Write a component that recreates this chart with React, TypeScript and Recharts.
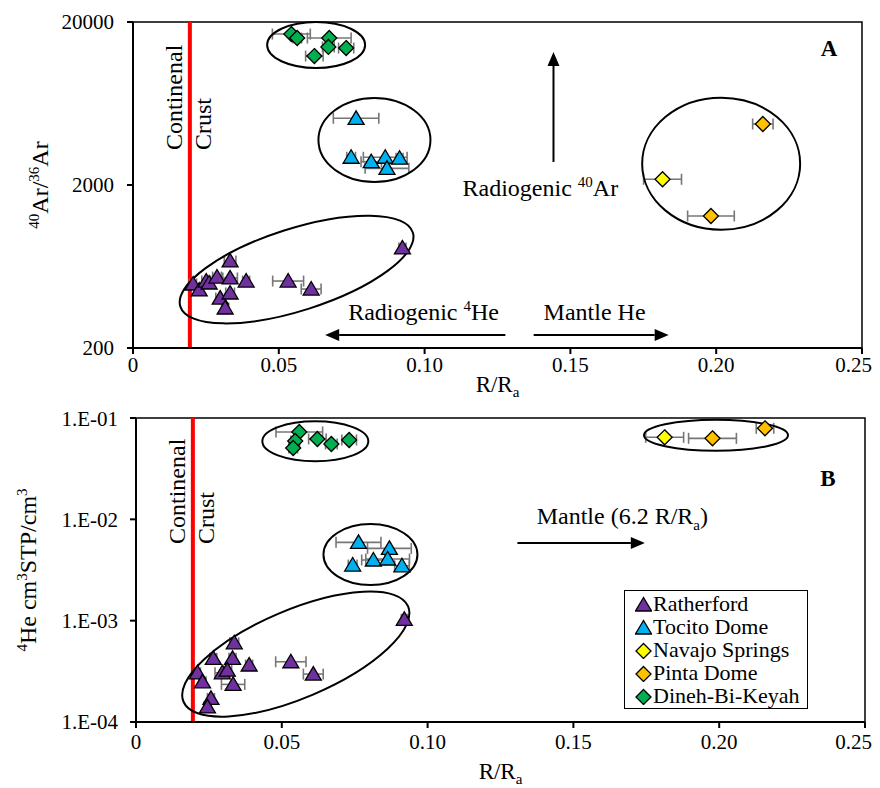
import React from 'react';
import {
  ScatterChart,
  Scatter,
  XAxis,
  YAxis,
  ErrorBar,
  ReferenceLine,
  ReferenceDot,
  ReferenceArea,
  Legend,
} from 'recharts';

const FONT = '"Liberation Serif", "Times New Roman", serif';

// [R/Ra, value, R/Ra error]
type Pt = [number, number, number];

const ratherfordAr: Pt[] = [
  [0.0206, 494, 0.0012],
  [0.0227, 454, 0.0012],
  [0.0251, 515, 0.0015],
  [0.0261, 501, 0.0012],
  [0.0288, 545, 0.0015],
  [0.0299, 405, 0.0015],
  [0.0316, 352, 0.0012],
  [0.0333, 684, 0.002],
  [0.0333, 538, 0.0025],
  [0.0333, 435, 0.0015],
  [0.0388, 515, 0.0012],
  [0.0532, 515, 0.0053],
  [0.0611, 460, 0.0034],
  [0.0924, 822, 0.0012],
];
const tocitoAr: Pt[] = [
  [0.0765, 5130, 0.0078],
  [0.0748, 2960, 0.0015],
  [0.0817, 2780, 0.0035],
  [0.0865, 2960, 0.0075],
  [0.0914, 2920, 0.0012],
  [0.0871, 2530, 0.0075],
];
const navajoAr: Pt[] = [[0.1816, 2168, 0.0065]];
const pintaAr: Pt[] = [
  [0.216, 4735, 0.0035],
  [0.1982, 1291, 0.008],
];
const dinehAr: Pt[] = [
  [0.0543, 16870, 0.0065],
  [0.0563, 15950, 0.0015],
  [0.0673, 15950, 0.0075],
  [0.067, 14060, 0.002],
  [0.0731, 13840, 0.0026],
  [0.0622, 12360, 0.003],
];

const ratherfordHe: Pt[] = [
  [0.092, 1.03e-3, 0.001],
  [0.0337, 6.05e-4, 0.0015],
  [0.0265, 4.25e-4, 0.0012],
  [0.0331, 4.25e-4, 0.0012],
  [0.0388, 3.65e-4, 0.0012],
  [0.0211, 3.06e-4, 0.001],
  [0.0296, 3.06e-4, 0.0025],
  [0.0313, 3.25e-4, 0.0015],
  [0.0228, 2.49e-4, 0.0012],
  [0.0333, 2.35e-4, 0.004],
  [0.0257, 1.71e-4, 0.0012],
  [0.0245, 1.41e-4, 0.0012],
  [0.0531, 3.93e-4, 0.0052],
  [0.0608, 2.97e-4, 0.0034],
];
const tocitoHe: Pt[] = [
  [0.0763, 5.93e-3, 0.0077],
  [0.0869, 5.17e-3, 0.0075],
  [0.0743, 3.54e-3, 0.0015],
  [0.0814, 3.97e-3, 0.004],
  [0.0863, 4.06e-3, 0.0075],
  [0.0912, 3.48e-3, 0.0025],
];
const navajoHe: Pt[] = [[0.1813, 0.0645, 0.0065]];
const pintaHe: Pt[] = [
  [0.1977, 0.063, 0.0082],
  [0.2157, 0.0791, 0.003],
];
const dinehHe: Pt[] = [
  [0.056, 0.0728, 0.008],
  [0.0546, 0.0593, 0.0015],
  [0.0539, 0.0506, 0.0015],
  [0.0622, 0.0621, 0.003],
  [0.067, 0.0554, 0.002],
  [0.0731, 0.0607, 0.0025],
];

const xTicks = [0, 0.05, 0.1, 0.15, 0.2, 0.25];
const arTicks = [200, 2000, 20000];
const heTicks = [1e-4, 1e-3, 1e-2, 1e-1];

const seriesNames = ['Ratherford', 'Tocito Dome', 'Navajo Springs', 'Pinta Dome', 'Dineh-Bi-Keyah'];
const seriesColors = ['#7030A0', '#00B0F0', '#FFFF00', '#FFC000', '#00B050'];
const seriesShapes = ['triangle', 'triangle', 'diamond', 'diamond', 'diamond'];
const arSets = [ratherfordAr, tocitoAr, navajoAr, pintaAr, dinehAr];
const heSets = [ratherfordHe, tocitoHe, navajoHe, pintaHe, dinehHe];

// cluster outlines: [R/Ra, value, rx px, ry px, rotation deg]
const ellipsesA = [
  [0.0628, 14450, 49, 23, 0],
  [0.0828, 3776, 56, 42, 0],
  [0.2017, 2702, 79, 66, 0],
  [0.0561, 606, 122, 41, -17.7],
];
const ellipsesB = [
  [0.0615, 0.0589, 53, 20, 0],
  [0.1989, 0.0675, 72, 15.5, 0],
  [0.0804, 0.00449, 47, 30.5, 0],
  [0.0548, 4.68e-4, 122, 44, -23],
];

const toRows = (pts: Pt[]) => pts.map(([r, v, e]) => ({ r, v, e }));

const Marker = ({ cx, cy, fill, kind }: any) => {
  if (kind === 'triangle') {
    return (
      <polygon
        points={`${cx},${cy - 7.5} ${cx - 8},${cy + 6} ${cx + 8},${cy + 6}`}
        fill={fill}
        stroke="#000"
        strokeWidth={1.3}
      />
    );
  }
  return (
    <polygon
      points={`${cx},${cy - 7.5} ${cx + 7.5},${cy} ${cx},${cy + 7.5} ${cx - 7.5},${cy}`}
      fill={fill}
      stroke="#000"
      strokeWidth={1.3}
    />
  );
};

const ellipseShape = (rx: number, ry: number, rot: number) => (p: any) => (
  <ellipse
    cx={p.cx}
    cy={p.cy}
    rx={rx}
    ry={ry}
    transform={`rotate(${rot} ${p.cx} ${p.cy})`}
    fill="none"
    stroke="#000"
    strokeWidth={2}
  />
);

const textShape = (content: React.ReactNode, anchor = 'start', size = 24, bold = false) => (p: any) => (
  <text
    x={p.cx}
    y={p.cy}
    textAnchor={anchor}
    fontFamily={FONT}
    fontSize={size}
    fontWeight={bold ? 'bold' : 'normal'}
    fill="#000"
  >
    {content}
  </text>
);

const Arrow = (p: any) => {
  const { x1, y1, x2, y2 } = p;
  const ang = Math.atan2(y2 - y1, x2 - x1);
  const L = 14;
  const W = 6;
  const bx = x2 - L * Math.cos(ang);
  const by = y2 - L * Math.sin(ang);
  const px = -Math.sin(ang) * W;
  const py = Math.cos(ang) * W;
  return (
    <g>
      <line x1={x1} y1={y1} x2={bx} y2={by} stroke="#000" strokeWidth={2} />
      <polygon points={`${x2},${y2} ${bx + px},${by + py} ${bx - px},${by - py}`} fill="#000" />
    </g>
  );
};

const CrustLabel = ({ viewBox, start }: any) => {
  const x = viewBox.x;
  const by = viewBox.y + start;
  return (
    <g fontFamily={FONT} fontSize={24} fill="#000">
      <text x={x - 8} y={by} transform={`rotate(-90 ${x - 8} ${by})`}>
        Continenal
      </text>
      <text x={x + 21} y={by} transform={`rotate(-90 ${x + 21} ${by})`}>
        Crust
      </text>
    </g>
  );
};

const RLabel = ({ viewBox, dy }: any) => {
  const cx = viewBox.x + viewBox.width / 2;
  const y = viewBox.y + dy;
  return (
    <text x={cx} y={y} textAnchor="middle" fontFamily={FONT} fontSize={23} fill="#000">
      R/R
      <tspan fontSize={15} dy={5}>
        a
      </tspan>
    </text>
  );
};

const ArLabel = ({ viewBox }: any) => {
  const x = viewBox.x + 40;
  const y = viewBox.y + viewBox.height / 2;
  return (
    <text
      x={x}
      y={y}
      transform={`rotate(-90 ${x} ${y})`}
      textAnchor="middle"
      fontFamily={FONT}
      fontSize={24}
      fill="#000"
    >
      <tspan fontSize={15} dy={-9}>40</tspan>
      <tspan dy={9}>Ar/</tspan>
      <tspan fontSize={15} dy={-9}>36</tspan>
      <tspan dy={9}>Ar</tspan>
    </text>
  );
};

const HeLabel = ({ viewBox }: any) => {
  const x = viewBox.x + 28;
  const y = viewBox.y + viewBox.height / 2;
  return (
    <text
      x={x}
      y={y}
      transform={`rotate(-90 ${x} ${y})`}
      textAnchor="middle"
      fontFamily={FONT}
      fontSize={24}
      fill="#000"
    >
      <tspan fontSize={15} dy={-9}>4</tspan>
      <tspan dy={9}>He cm</tspan>
      <tspan fontSize={15} dy={-9}>3</tspan>
      <tspan dy={9}>STP/cm</tspan>
      <tspan fontSize={15} dy={-9}>3</tspan>
    </text>
  );
};

const LegendBox = () => (
  <div
    style={{
      border: '1.5px solid #000',
      background: '#fff',
      padding: '1px 4px 1px 10px',
      fontFamily: FONT,
      fontSize: 22,
      lineHeight: '23px',
      color: '#000',
      width: 168,
    }}
  >
    {seriesNames.map((name, i) => (
      <div key={name} style={{ display: 'flex', alignItems: 'center', whiteSpace: 'nowrap' }}>
        <svg width={17} height={18} style={{ marginRight: 1 }}>
          <Marker cx={8.5} cy={10} fill={seriesColors[i]} kind={seriesShapes[i]} />
        </svg>
        <span>{name}</span>
      </div>
    ))}
  </div>
);

const tickStyle = { fontFamily: FONT, fontSize: 21, fill: '#000' };
const axisLine = { stroke: '#000', strokeWidth: 2 };
const fmtX = (v: number) => (v === 0 ? '0' : v.toFixed(2));
const fmtHe = (v: number) => '1.E-' + String(Math.round(-Math.log10(v))).padStart(2, '0');

const renderSeries = (sets: Pt[][]) =>
  sets.map((pts, i) => (
    <Scatter
      key={seriesNames[i]}
      name={seriesNames[i]}
      data={toRows(pts)}
      fill={seriesColors[i]}
      isAnimationActive={false}
      shape={(p: any) => <Marker cx={p.cx} cy={p.cy} fill={seriesColors[i]} kind={seriesShapes[i]} />}
    >
      <ErrorBar dataKey="e" direction="x" width={5.5} stroke="#777" strokeWidth={1.6} />
    </Scatter>
  ));

function PanelA() {
  return (
    <ScatterChart width={864} height={398} margin={{ top: 14, right: 10, bottom: 0, left: 0 }}>
      <XAxis
        type="number"
        dataKey="r"
        domain={[0, 0.25]}
        ticks={xTicks}
        tickFormatter={fmtX}
        allowDataOverflow
        height={58}
        fontSize={21}
        fontFamily={FONT}
        tick={tickStyle}
        tickMargin={3}
        axisLine={axisLine}
        tickLine={axisLine}
        label={<RLabel dy={44} />}
      />
      <YAxis
        type="number"
        dataKey="v"
        scale="log"
        domain={[200, 20000]}
        ticks={arTicks}
        allowDataOverflow
        width={125}
        fontSize={21}
        fontFamily={FONT}
        tick={tickStyle}
        tickMargin={13}
        axisLine={axisLine}
        tickLine={axisLine}
        label={<ArLabel />}
      />
      <ReferenceArea x1={0} x2={0.25} y1={200} y2={20000} fill="none" stroke="#000" strokeWidth={1.5} />
      <ReferenceLine x={0.0195} stroke="#FF0000" strokeWidth={4} label={<CrustLabel start={128} />} />
      {ellipsesA.map(([x, y, rx, ry, rot], i) => (
        <ReferenceDot key={'ea' + i} x={x} y={y} r={1} shape={ellipseShape(rx, ry, rot)} />
      ))}
      <ReferenceLine segment={[{ x: 0.1442, y: 2770 }, { x: 0.1442, y: 13100 }]} shape={Arrow} />
      <ReferenceLine segment={[{ x: 0.1277, y: 240 }, { x: 0.0659, y: 240 }]} shape={Arrow} />
      <ReferenceLine segment={[{ x: 0.1374, y: 240 }, { x: 0.1837, y: 240 }]} shape={Arrow} />
      <ReferenceDot
        x={0.113}
        y={1712}
        r={1}
        shape={textShape(
          <>
            Radiogenic <tspan fontSize={15} dy={-9}>40</tspan>
            <tspan dy={9}>Ar</tspan>
          </>
        )}
      />
      <ReferenceDot
        x={0.0738}
        y={297}
        r={1}
        shape={textShape(
          <>
            Radiogenic <tspan fontSize={15} dy={-9}>4</tspan>
            <tspan dy={9}>He</tspan>
          </>
        )}
      />
      <ReferenceDot x={0.1408} y={297} r={1} shape={textShape('Mantle He')} />
      <ReferenceDot x={0.2387} y={12375} r={1} shape={textShape('A', 'middle', 23, true)} />
      {renderSeries(arSets)}
    </ScatterChart>
  );
}

function PanelB() {
  return (
    <ScatterChart width={864} height={382} margin={{ top: 12, right: 7, bottom: 0, left: 0 }}>
      <XAxis
        type="number"
        dataKey="r"
        domain={[0, 0.25]}
        ticks={xTicks}
        tickFormatter={fmtX}
        allowDataOverflow
        height={66}
        fontSize={21}
        fontFamily={FONT}
        tick={tickStyle}
        tickMargin={6}
        axisLine={axisLine}
        tickLine={axisLine}
        label={<RLabel dy={57} />}
      />
      <YAxis
        type="number"
        dataKey="v"
        scale="log"
        domain={[1e-4, 1e-1]}
        ticks={heTicks}
        tickFormatter={fmtHe}
        allowDataOverflow
        width={128}
        fontSize={21}
        fontFamily={FONT}
        tick={tickStyle}
        tickMargin={12}
        axisLine={axisLine}
        tickLine={axisLine}
        label={<HeLabel />}
      />
      <ReferenceArea x1={0} x2={0.25} y1={1e-4} y2={1e-1} fill="none" stroke="#000" strokeWidth={1.5} />
      <ReferenceLine x={0.0195} stroke="#FF0000" strokeWidth={4} label={<CrustLabel start={126} />} />
      {ellipsesB.map(([x, y, rx, ry, rot], i) => (
        <ReferenceDot key={'eb' + i} x={x} y={y} r={1} shape={ellipseShape(rx, ry, rot)} />
      ))}
      <ReferenceLine segment={[{ x: 0.1308, y: 0.00583 }, { x: 0.1745, y: 0.00583 }]} shape={Arrow} />
      <ReferenceDot
        x={0.1374}
        y={0.009}
        r={1}
        shape={textShape(
          <>
            Mantle (6.2 R/R<tspan fontSize={15} dy={6}>a</tspan>
            <tspan dy={-6}>)</tspan>
          </>
        )}
      />
      <ReferenceDot x={0.2373} y={0.0213} r={1} shape={textShape('B', 'middle', 23, true)} />
      {renderSeries(heSets)}
      <Legend
        layout="vertical"
        align="center"
        verticalAlign="middle"
        content={<LegendBox />}
        wrapperStyle={{ left: 616, top: 184, width: 'auto' }}
      />
    </ScatterChart>
  );
}

export default function App() {
  return (
    <div style={{ width: 864, background: '#fff' }}>
      <PanelA />
      <PanelB />
    </div>
  );
}
